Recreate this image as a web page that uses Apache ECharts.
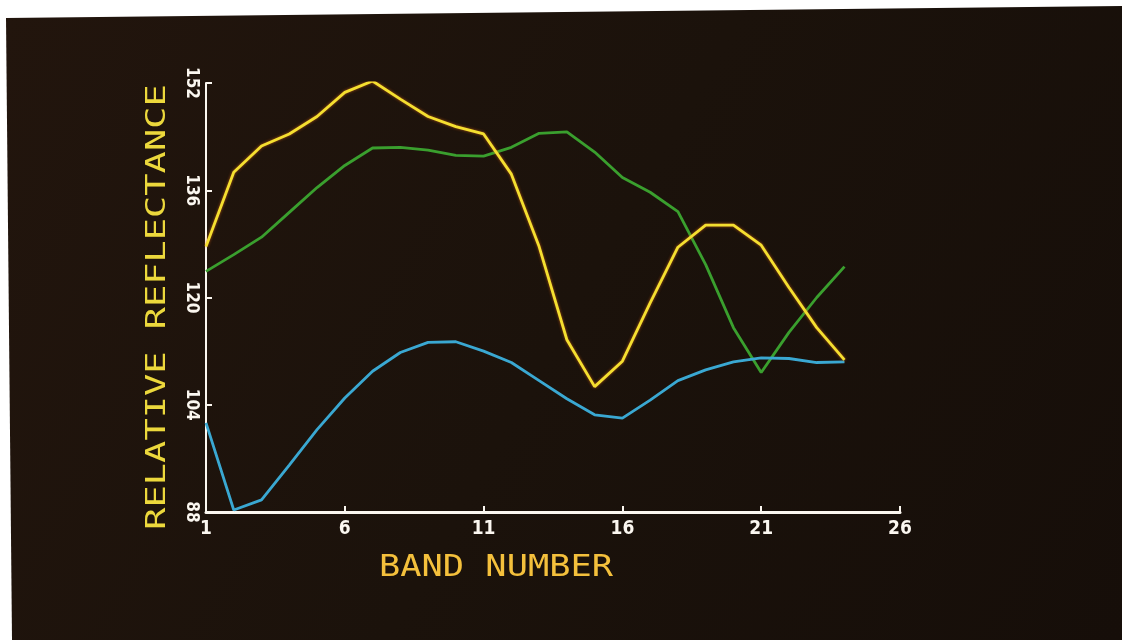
<!DOCTYPE html>
<html>
<head>
<meta charset="utf-8">
<script src="https://cdn.jsdelivr.net/npm/echarts@6/dist/echarts.min.js"></script>
<style>
  html, body { margin: 0; padding: 0; background: #ffffff; }
  #chart { width: 1122px; height: 640px; }
</style>
</head>
<body>
<div id="chart"></div>
<script>
// Spectral bands sampled on the display
const bands = [1, 2, 3, 4, 5, 6, 7, 8, 9, 10, 11, 12, 13, 14, 15, 16, 17, 18, 19, 20, 21, 22, 23, 24];

// Relative reflectance per band for the three traces
const yellowTrace = [127.6, 138.7, 142.6, 144.4, 147.0, 150.6, 152.3, 149.6, 147.0, 145.5, 144.4, 138.4,
                     127.6, 113.7, 106.7, 110.5, 119.2, 127.5, 130.8, 130.8, 127.8, 121.5, 115.5, 110.7];
const greenTrace  = [123.9, 126.4, 129.0, 132.7, 136.4, 139.7, 142.3, 142.4, 142.0, 141.2, 141.1, 142.4,
                     144.5, 144.7, 141.7, 137.9, 135.7, 132.8, 124.9, 115.5, 108.8, 114.8, 120.0, 124.6];
const blueTrace   = [101.3, 88.3, 89.8, 95.0, 100.3, 105.0, 109.0, 111.8, 113.3, 113.4, 112.0, 110.3,
                     107.6, 104.9, 102.5, 102.0, 104.7, 107.6, 109.2, 110.4, 111.0, 110.9, 110.3, 110.4];

// Tick marks on each axis
const xTicks = [1, 6, 11, 16, 21, 26];
const yTicks = [88, 104, 120, 136, 152];

const xTitle = 'BAND NUMBER';
const yTitle = 'RELATIVE REFLECTANCE';

const toPairs = vals => bands.map((b, i) => [b, vals[i]]);

const axisWhite = '#fbf7f0';
const tickFont = '"DejaVu Sans Condensed", "Liberation Sans Narrow", sans-serif';

const chart = echarts.init(document.getElementById('chart'), null, { renderer: 'canvas' });

chart.setOption({
  backgroundColor: '#ffffff',
  animation: false,
  grid: { left: 206, right: 222, top: 83, bottom: 128, containLabel: false, outerBoundsMode: 'none' },
  xAxis: {
    type: 'value',
    min: 1,
    max: 26,
    axisLine: { show: true, lineStyle: { color: axisWhite, width: 3 } },
    axisTick: { show: true, customValues: xTicks, inside: true, length: 6, lineStyle: { color: axisWhite, width: 2 } },
    axisLabel: {
      customValues: xTicks,
      color: axisWhite,
      fontFamily: tickFont,
      fontWeight: 'bold',
      fontSize: 19,
      margin: 8
    },
    splitLine: { show: false }
  },
  yAxis: {
    type: 'value',
    min: 88,
    max: 152,
    axisLine: { show: true, lineStyle: { color: axisWhite, width: 2 } },
    axisTick: { show: true, customValues: yTicks, inside: true, length: 6, lineStyle: { color: axisWhite, width: 2 } },
    axisLabel: {
      customValues: yTicks,
      rotate: -90,
      color: axisWhite,
      fontFamily: tickFont,
      fontWeight: 'bold',
      fontSize: 17,
      margin: 6
    },
    splitLine: { show: false }
  },
  graphic: [
    {
      type: 'polygon',
      z: -10,
      silent: true,
      shape: { points: [[6, 18], [1122, 6], [1122, 640], [12, 640]] },
      style: {
        fill: new echarts.graphic.LinearGradient(0, 0, 1, 1, [
          { offset: 0, color: '#22150d' },
          { offset: 0.5, color: '#1b120b' },
          { offset: 1, color: '#160e09' }
        ])
      }
    },
    {
      type: 'text',
      x: 158,
      y: 307,
      rotation: Math.PI / 2,
      scaleX: 1.37,
      silent: true,
      style: {
        text: yTitle,
        fill: '#ecd83c',
        fontFamily: '"DejaVu Sans Mono", monospace',
        fontSize: 27,
        align: 'center',
        verticalAlign: 'middle'
      }
    },
    {
      type: 'text',
      x: 496,
      y: 568,
      scaleX: 1.14,
      silent: true,
      style: {
        text: xTitle,
        fill: '#f4c03c',
        fontFamily: '"DejaVu Sans Mono", monospace',
        fontSize: 31,
        align: 'center',
        verticalAlign: 'middle'
      }
    }
  ],
  series: [
    {
      name: 'green',
      type: 'line',
      data: toPairs(greenTrace),
      symbol: 'none',
      lineStyle: { color: '#3a9f2e', width: 2.8 }
    },
    {
      name: 'blue',
      type: 'line',
      data: toPairs(blueTrace),
      symbol: 'none',
      lineStyle: { color: '#3aa8d2', width: 2.8 }
    },
    {
      name: 'yellow',
      type: 'line',
      data: toPairs(yellowTrace),
      symbol: 'none',
      lineStyle: { color: '#f4df30', width: 2.8, shadowColor: 'rgba(230,110,20,0.7)', shadowBlur: 3 }
    }
  ]
});
</script>
</body>
</html>
